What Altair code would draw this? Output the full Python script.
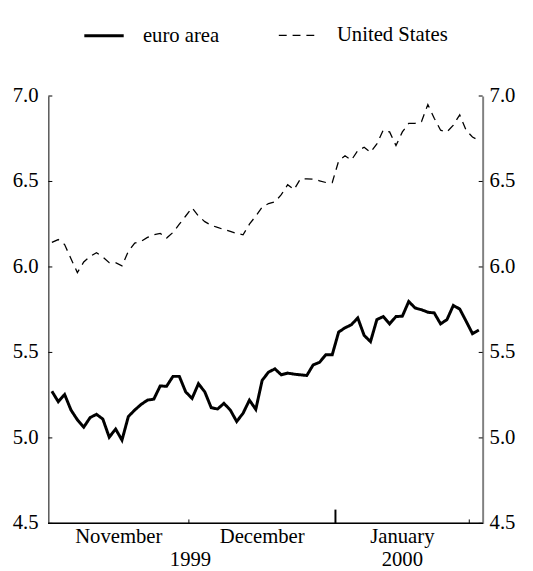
import altair as alt
import pandas as pd

# ---- data ----
dates = pd.bdate_range("1999-11-01", "2000-02-02")  # business days

euro_area = [
    5.273, 5.212, 5.254, 5.163, 5.106, 5.063, 5.119, 5.138, 5.110, 5.004,
    5.052, 4.987, 5.125, 5.163, 5.196, 5.221, 5.227, 5.304, 5.302, 5.360,
    5.360, 5.269, 5.231, 5.317, 5.269, 5.177, 5.169, 5.202, 5.163, 5.096,
    5.144, 5.221, 5.167, 5.337, 5.385, 5.404, 5.369, 5.379, 5.373, 5.369,
    5.365, 5.427, 5.442, 5.487, 5.487, 5.619, 5.644, 5.662, 5.702, 5.600,
    5.563, 5.692, 5.710, 5.667, 5.710, 5.712, 5.798, 5.760, 5.750, 5.735,
    5.731, 5.667, 5.692, 5.775, 5.754, 5.683, 5.610, 5.631,
]
united_states = [
    6.144, 6.160, 6.131, 6.048, 5.967, 6.029, 6.062, 6.083, 6.058, 6.025,
    6.025, 6.006, 6.092, 6.140, 6.150, 6.173, 6.188, 6.196, 6.169, 6.202,
    6.250, 6.298, 6.346, 6.298, 6.265, 6.244, 6.231, 6.219, 6.208, 6.196,
    6.188, 6.250, 6.298, 6.350, 6.371, 6.381, 6.423, 6.481, 6.452, 6.515,
    6.515, 6.513, 6.504, 6.494, 6.494, 6.620, 6.650, 6.625, 6.680, 6.700,
    6.670, 6.720, 6.800, 6.790, 6.710, 6.790, 6.840, 6.840, 6.850, 6.950,
    6.870, 6.800, 6.790, 6.830, 6.890, 6.800, 6.760, 6.740,
]
series_names = ["euro area", "United States"]
y_ticks = [4.5, 5.0, 5.5, 6.0, 6.5, 7.0]

FONT = "Liberation Serif"
W, H = 441, 434

n = len(dates)
idx = list(range(n))
df = pd.DataFrame({
    "i": idx * 2,
    "value": euro_area + united_states,
    "series": [series_names[0]] * n + [series_names[1]] * n,
})

# month boundaries / labels derived from the dates
months = dates.to_period("M")
bound_rows = []
for k in range(1, n):
    if months[k] != months[k - 1]:
        bound_rows.append({"pos": k - 0.5, "year_change": bool(dates[k].year != dates[k - 1].year)})
bounds = pd.DataFrame(bound_rows)

mdf = pd.DataFrame({"i": idx, "month": months.astype(str), "name": dates.strftime("%B"), "year": dates.year})
mgrp = mdf.groupby("month").agg(pos=("i", "mean"), cnt=("i", "size"), name=("name", "first"), year=("year", "first")).reset_index()
mgrp = mgrp[mgrp["cnt"] >= 10]
month_labels = mgrp[["pos", "name"]]
year_labels = mgrp.groupby("year")["pos"].mean().reset_index()
year_labels["label"] = year_labels["year"].astype(str)

xscale = alt.Scale(domain=[-0.55, 67.6], nice=False, zero=False)
yscale = alt.Scale(domain=[4.5, 7.0], nice=False, zero=False)

legend = alt.Legend(
    title=None, orient="none", legendX=35, legendY=-83, direction="horizontal",
    symbolType="stroke", symbolSize=1600, symbolStrokeColor="black",
    labelFont=FONT, labelFontSize=21, labelColor="black", labelOffset=18,
    columnPadding=57, padding=0,
)

lines = alt.Chart(df).mark_line(color="black").encode(
    x=alt.X("i:Q", scale=xscale, axis=None),
    y=alt.Y("value:Q", scale=yscale, axis=alt.Axis(
        orient="left", values=y_ticks, labels=False, ticks=False, tickSize=0,
        domainColor="black", domainWidth=1, title=None, grid=False)),
    strokeDash=alt.StrokeDash("series:N", scale=alt.Scale(domain=series_names, range=[[1, 0], [8, 6]]), legend=legend),
    strokeWidth=alt.StrokeWidth("series:N", scale=alt.Scale(domain=series_names, range=[3, 1.3]), legend=legend),
)

tick_df = pd.DataFrame({"v": y_ticks})
left_ticks = alt.Chart(tick_df).mark_rule(color="black").encode(
    y=alt.Y("v:Q", scale=yscale, axis=None),
    x=alt.value(0), x2=alt.value(4),
)
right_ticks = alt.Chart(tick_df).mark_rule(color="black").encode(
    y=alt.Y("v:Q", scale=yscale, axis=alt.Axis(
        orient="right", values=y_ticks, labels=False, ticks=False, tickSize=0,
        domainColor="#808080", domainWidth=2, title=None, grid=False)),
    x=alt.value(W - 4), x2=alt.value(W),
)
left_labels = alt.Chart(tick_df).mark_text(font=FONT, fontSize=21, align="right", baseline="middle", color="black").encode(
    y=alt.Y("v:Q", scale=yscale, axis=None),
    x=alt.value(-10),
    text=alt.Text("v:Q", format=".1f"),
)
right_labels = alt.Chart(tick_df).mark_text(font=FONT, fontSize=21, align="left", baseline="middle", color="black").encode(
    y=alt.Y("v:Q", scale=yscale, axis=None),
    x=alt.value(W + 7),
    text=alt.Text("v:Q", format=".1f"),
)

bottom_line = alt.Chart(tick_df).mark_rule(color="black", strokeWidth=1).encode(
    x=alt.value(0), x2=alt.value(W), y=alt.value(H),
)

small_ticks = alt.Chart(bounds).transform_filter("!datum.year_change").mark_rule(color="black", strokeWidth=1).encode(
    x=alt.X("pos:Q", scale=xscale, axis=None),
    y=alt.value(H), y2=alt.value(H - 4),
)
year_ticks = alt.Chart(bounds).transform_filter("datum.year_change").mark_rule(color="black", strokeWidth=2).encode(
    x=alt.X("pos:Q", scale=xscale, axis=None),
    y=alt.value(H), y2=alt.value(H - 14),
)

month_text = alt.Chart(month_labels).mark_text(font=FONT, fontSize=21, baseline="alphabetic", align="center", color="black").encode(
    x=alt.X("pos:Q", scale=xscale, axis=None),
    y=alt.value(H + 20),
    text="name:N",
)
year_text = alt.Chart(year_labels).mark_text(font=FONT, fontSize=21, baseline="alphabetic", align="center", color="black").encode(
    x=alt.X("pos:Q", scale=xscale, axis=None),
    y=alt.value(H + 43),
    text="label:N",
)

chart = alt.layer(
    lines, left_ticks, right_ticks, left_labels, right_labels, bottom_line,
    small_ticks, year_ticks, month_text, year_text
).resolve_axis(y="independent").properties(
    width=W, height=H,
    autosize=alt.AutoSizeParams(type="none"),
    padding={"left": 41, "top": 85, "right": 43, "bottom": 45},
).configure(font=FONT).configure_view(stroke=None)

chart.save("out.html", embed_options={"renderer": "svg", "actions": False})
